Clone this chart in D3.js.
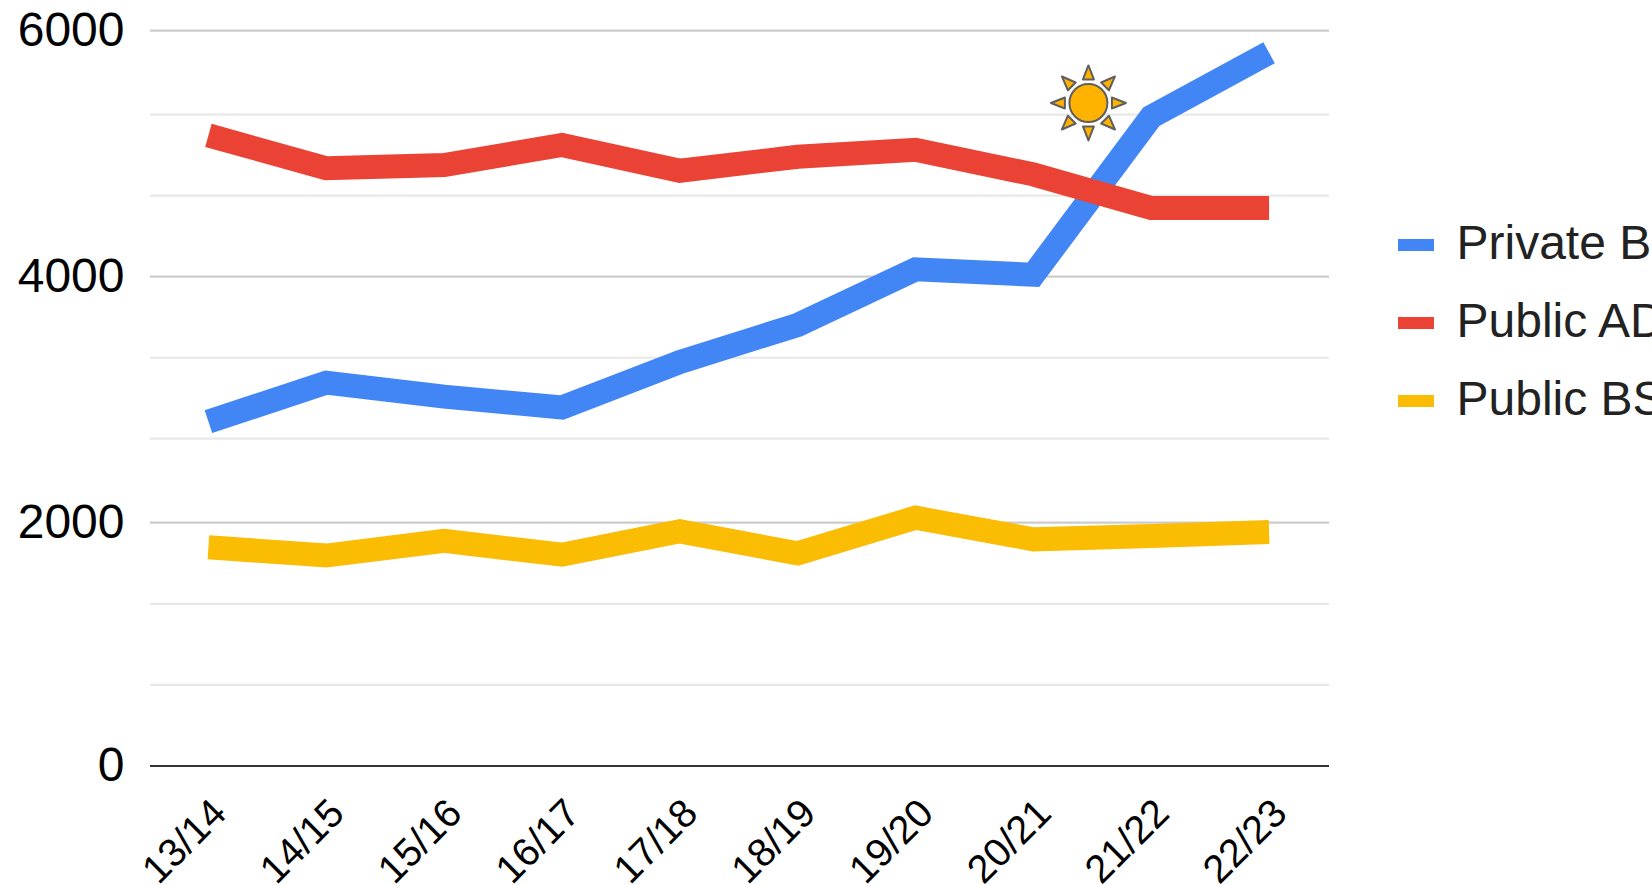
<!DOCTYPE html>
<html>
<head>
<meta charset="utf-8">
<script src="https://cdn.jsdelivr.net/npm/d3@7/dist/d3.min.js"></script>
<style>
html,body{margin:0;padding:0;background:#fff;overflow:hidden}
text{font-family:"Liberation Sans",Arial,sans-serif}
</style>
</head>
<body>
<svg id="c" width="1652" height="885"></svg>
<script>
const categories = ["13/14","14/15","15/16","16/17","17/18","18/19","19/20","20/21","21/22","22/23"];
const seriesNames = ["Private BSN","Public ADN","Public BSN"];
const seriesColors = ["#4285f4","#ea4335","#fbbc04"];
const privateBSN = [2807,3128,3013,2924,3298,3603,4061,4016,5316,5825];
const publicADN = [5163,4892,4919,5084,4872,4987,5045,4842,4565,4565];
const publicBSN = [1798,1730,1851,1737,1929,1748,2040,1863,1891,1923];
const majorTicks = [0,2000,4000,6000];
const minorTicks = [667,1333,2667,3333,4667,5333];
const sunCategory = "20/21", sunOffset = 0.467, sunValue = 5426;

const svg = d3.select("#c");
const x = d3.scaleBand().domain(categories).range([149.5,1328]);
// the picture's grid is very slightly uneven, so the scale is piecewise
const y = d3.scaleLinear().domain([0,2000,2667,5333,6000]).range([766,522.7,438.7,114.7,30.7]);
const cx = c => x(c)+x.bandwidth()/2;

svg.append("g").selectAll("line").data(minorTicks).join("line")
  .attr("x1",150).attr("x2",1329).attr("y1",d=>y(d)).attr("y2",d=>y(d))
  .attr("stroke","#e8e8e8").attr("stroke-width",2.2);

const yAxis = d3.axisLeft(y).tickValues(majorTicks).tickSize(0).tickPadding(25.5).tickFormat(d3.format("d"));
const ya = svg.append("g").attr("transform","translate(150,0)").call(yAxis);
ya.select(".domain").remove();
ya.selectAll("text").attr("font-size",48).attr("fill","#000").attr("dy","14.6px")
  .style("font-family",'"Liberation Sans",Arial,sans-serif');

svg.append("g").selectAll("line").data(majorTicks).join("line")
  .attr("x1",150).attr("x2",1329).attr("y1",d=>y(d)).attr("y2",d=>y(d))
  .attr("stroke",d=>d===0?"#333":"#ccc").attr("stroke-width",2.2);

const xAxis = d3.axisBottom(x).tickSize(0);
const xa = svg.append("g").attr("transform","translate(0,766)").call(xAxis);
xa.select(".domain").remove();
xa.selectAll("text").attr("font-size",39.5).attr("fill","#000")
  .attr("text-anchor","end").attr("dy",0).attr("y",0)
  .attr("transform","translate(20,49.5) rotate(-45)")
  .style("font-family",'"Liberation Sans",Arial,sans-serif');

const line = d3.line().x((d,i)=>cx(categories[i])).y(d=>y(d));
[privateBSN,publicADN,publicBSN].forEach((vals,i)=>{
  svg.append("path").attr("d",line(vals)).attr("fill","none")
    .attr("stroke",seriesColors[i]).attr("stroke-width",24)
    .attr("stroke-linejoin","miter").attr("stroke-linecap","butt");
});

// sun annotation
const sx = cx(sunCategory)+x.bandwidth()*sunOffset, sy = y(sunValue);
const sun = svg.append("g").attr("transform",`translate(${sx},${sy})`);
sun.append("circle").attr("r",19).attr("fill","#ffb300").attr("stroke","#5f5f5f").attr("stroke-width",2);
sun.selectAll("polygon").data(d3.range(8)).join("polygon")
  .attr("points","-5.5,-23.5 5.5,-23.5 0,-37.5")
  .attr("transform",d=>`rotate(${d*45})`)
  .attr("fill","#ffb300").attr("stroke","#5f5f5f").attr("stroke-width",2).attr("stroke-linejoin","round");

// legend
const leg = svg.append("g").selectAll("g").data(seriesNames).join("g")
  .attr("transform",(d,i)=>`translate(0,${245+i*78})`);
leg.append("rect").attr("x",1398).attr("y",-6).attr("width",36).attr("height",12)
  .attr("fill",(d,i)=>seriesColors[i]);
leg.append("text").attr("x",1456.5).attr("y",14).attr("font-size",48).attr("fill","#222").text(d=>d);
</script>
</body>
</html>
